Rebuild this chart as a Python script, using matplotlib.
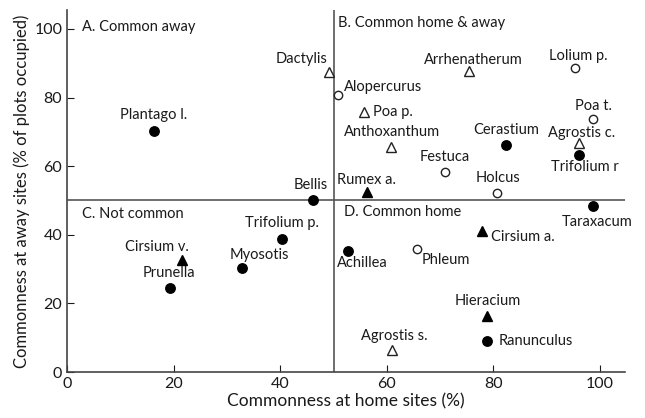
import matplotlib
matplotlib.use("Agg")
import matplotlib.pyplot as plt

plt.rcParams['font.family'] = ['Lato', 'DejaVu Sans']

# species: name, home %, away %, marker type
names = ["Plantago l.", "Dactylis", "Alopercurus", "Bellis", "Arrhenatherum", "Lolium p.",
         "Poa p.", "Poa t.", "Anthoxanthum", "Cerastium", "Agrostis c.", "Trifolium r",
         "Festuca", "Holcus", "Rumex a.", "Taraxacum", "Cirsium a.", "Achillea",
         "Phleum", "Hieracium", "Ranunculus", "Agrostis s.", "Trifolium p.", "Cirsium v.",
         "Myosotis", "Prunella"]
home = [16.3, 49.2, 50.8, 46.2, 75.4, 95.3,
        55.7, 98.7, 60.8, 82.4, 96.0, 96.0,
        70.9, 80.7, 56.3, 98.7, 77.9, 52.7,
        65.7, 78.8, 78.8, 61.0, 40.3, 21.6,
        32.8, 19.3]
away = [70.3, 87.5, 80.8, 50.0, 87.8, 88.6,
        75.8, 73.8, 65.6, 66.2, 66.8, 63.3,
        58.3, 52.2, 52.5, 48.4, 41.1, 35.3,
        35.9, 16.3, 9.0, 6.4, 38.8, 32.7,
        30.3, 24.5]
# fc = filled circle, oc = open circle, ft = filled triangle, ot = open triangle
kind = ["fc", "ot", "oc", "fc", "ot", "oc",
        "ot", "oc", "ot", "fc", "ot", "fc",
        "oc", "oc", "ft", "fc", "ft", "fc",
        "oc", "ft", "fc", "ot", "fc", "ft",
        "fc", "fc"]

# label placement (pixel offsets, alignment)
lab = {
    "Plantago l.": (0, 16, "center"),
    "Dactylis": (-2, 13, "right"),
    "Alopercurus": (6, 8, "left"),
    "Bellis": (15, 15, "right"),
    "Arrhenatherum": (4, 11, "center"),
    "Lolium p.": (3, 12, "center"),
    "Poa p.": (9, 0, "left"),
    "Poa t.": (0, 13, "center"),
    "Anthoxanthum": (1, 15, "center"),
    "Cerastium": (0, 15, "center"),
    "Agrostis c.": (3, 10, "center"),
    "Trifolium r": (6, -12, "center"),
    "Festuca": (0, 15, "center"),
    "Holcus": (1, 15, "center"),
    "Rumex a.": (-1, 12, "center"),
    "Taraxacum": (4, -16, "center"),
    "Cirsium a.": (9, -6, "left"),
    "Achillea": (14, -12, "center"),
    "Phleum": (4, -11, "left"),
    "Hieracium": (1, 15, "center"),
    "Ranunculus": (12, 0, "left"),
    "Agrostis s.": (2, 14, "center"),
    "Trifolium p.": (0, 16, "center"),
    "Cirsium v.": (-25, 13, "center"),
    "Myosotis": (18, 13, "center"),
    "Prunella": (-1, 15, "center"),
}

quadrants = [("A. Common away", 2.8, 100.6), ("B. Common home & away", 50.8, 101.7),
             ("C. Not common", 2.8, 46.0), ("D. Common home", 52.0, 46.6)]

fig = plt.figure(figsize=(6.45, 4.18), dpi=100)
ax = fig.add_axes([0.104, 0.110, 0.865, 0.866])

ax.axvline(50, color="#555555", lw=1.2, zorder=1)
ax.axhline(50, color="#555555", lw=1.2, zorder=1)

for n, x, y, k in zip(names, home, away, kind):
    if k == "fc":
        ax.plot(x, y, "o", ms=6.8, mfc="black", mec="black", zorder=3)
    elif k == "oc":
        ax.plot(x, y, "o", ms=6, mfc="white", mec="#222222", mew=1.0, zorder=3)
    elif k == "ft":
        ax.plot(x, y, "^", ms=7, mfc="black", mec="black", zorder=3)
    else:
        ax.plot(x, y, "^", ms=6.5, mfc="white", mec="#222222", mew=1.0, zorder=3)
    dx, dy, ha = lab[n]
    ax.annotate(n, (x, y), xytext=(dx, dy), textcoords="offset pixels",
                ha=ha, va="center", fontsize=10.5, color="#1a1a1a")

for t, x, y in quadrants:
    ax.text(x, y, t, ha="left", va="center", fontsize=10.5, color="#1a1a1a")

ax.set_xlim(0, 104.7)
ax.set_ylim(0, 105.5)
ax.set_xticks([0, 20, 40, 60, 80, 100])
ax.set_yticks([0, 20, 40, 60, 80, 100])
ax.tick_params(direction="in", length=5, labelsize=11.5, colors="#1a1a1a")
for s in ["top", "right"]:
    ax.spines[s].set_visible(False)
for s in ["left", "bottom"]:
    ax.spines[s].set_color("#444444")
    ax.spines[s].set_linewidth(1.2)
ax.set_xlabel("Commonness at home sites (%)", fontsize=12.5, color="#1a1a1a", labelpad=2)
ax.set_ylabel("Commonness at away sites (% of plots occupied)", fontsize=12, color="#1a1a1a", labelpad=3)

fig.savefig("out.png", dpi=100)
